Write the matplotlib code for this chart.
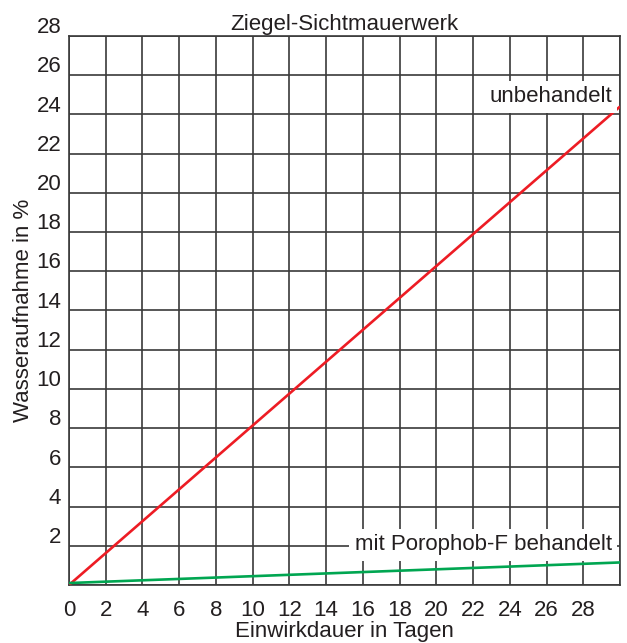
import numpy as np
import matplotlib

matplotlib.use("Agg")
import matplotlib.pyplot as plt
from matplotlib.transforms import ScaledTranslation

plt.rcParams["font.family"] = ["Liberation Sans", "DejaVu Sans"]

# ---- data ----
days = [0, 30]
unbehandelt = [0.0, 24.4]       # % water uptake, untreated
behandelt = [0.1, 1.15]         # % water uptake, Porophob-F treated

x_ticks = list(range(0, 31, 2))
x_labels = [str(v) for v in range(0, 29, 2)] + [""]
y_ticks = list(range(0, 29, 2))
y_labels = [""] + [str(v) for v in range(2, 29, 2)]

TXT = "#231f20"
GRID = "#3a3a3a"
RED = "#ed1c24"
GREEN = "#00a651"
FS = 16

fig = plt.figure(figsize=(6.27, 6.43), dpi=100)
ax = fig.add_axes([0.110, 0.0902, 0.879, 0.854])

ax.plot(days, unbehandelt, color=RED, lw=1.9, zorder=3, solid_capstyle="butt")
ax.plot(days, behandelt, color=GREEN, lw=1.9, zorder=3, solid_capstyle="butt")

ax.set_xlim(0, 30)
ax.set_ylim(0, 28)
ax.set_xticks(x_ticks)
ax.set_xticklabels(x_labels)
ax.set_yticks(y_ticks)
ax.set_yticklabels(y_labels)
ax.tick_params(length=0, labelsize=FS, labelcolor=TXT)
ax.tick_params(axis="x", pad=11)
ax.tick_params(axis="y", pad=5.5)
for lab in ax.get_yticklabels():
    lab.set_va("baseline")
    lab.set_transform(lab.get_transform() + ScaledTranslation(0, 2 / 72, fig.dpi_scale_trans))

ax.grid(True, color=GRID, lw=1.2, zorder=1)
ax.set_axisbelow(True)
for s in ax.spines.values():
    s.set_color(GRID)
    s.set_linewidth(1.2)

ax.set_title("Ziegel-Sichtmauerwerk", fontsize=FS, color=TXT, pad=4)
ax.set_xlabel("Einwirkdauer in Tagen", fontsize=FS, color=TXT, labelpad=0)
ax.set_ylabel("Wasseraufnahme in %", fontsize=FS, color=TXT, labelpad=2)

ax.text(29.55, 24.9, "unbehandelt", ha="right", va="center", fontsize=FS, color=TXT,
        zorder=4, bbox=dict(boxstyle="square,pad=0.25", fc="white", ec="none"))
ax.text(29.55, 2.05, "mit Porophob-F behandelt", ha="right", va="center", fontsize=FS,
        color=TXT, zorder=4, bbox=dict(boxstyle="square,pad=0.25", fc="white", ec="none"))

fig.savefig("out.png", dpi=100)
